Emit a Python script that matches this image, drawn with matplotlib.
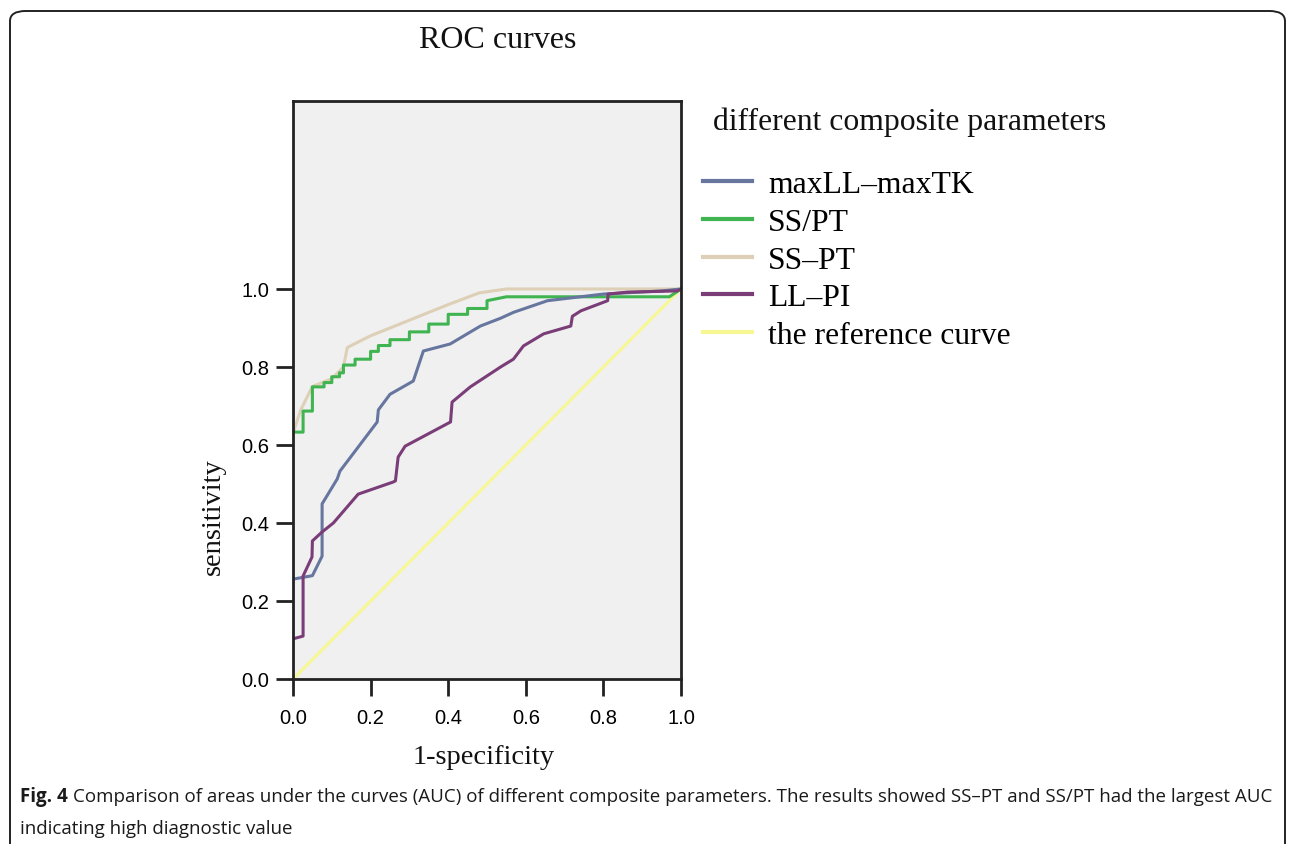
import matplotlib
matplotlib.use("Agg")
import matplotlib.pyplot as plt
from matplotlib.patches import FancyBboxPatch

# ---- data ----
series_names = ["maxLL\u2013maxTK", "SS/PT", "SS\u2013PT", "LL\u2013PI", "the reference curve"]

maxll_x = [0.0, 0.05, 0.075, 0.075, 0.114, 0.121, 0.217, 0.22, 0.25, 0.31, 0.336, 0.405, 0.483, 0.535, 0.568, 0.656, 0.80, 0.95, 1.0]
maxll_y = [0.256, 0.265, 0.315, 0.449, 0.513, 0.533, 0.659, 0.69, 0.73, 0.764, 0.841, 0.859, 0.905, 0.925, 0.94, 0.97, 0.987, 0.995, 1.0]

sspt_ratio_x = [0.0, 0.026, 0.026, 0.05, 0.05, 0.08, 0.08, 0.10, 0.10, 0.12, 0.12, 0.13, 0.13, 0.16, 0.16, 0.20, 0.20, 0.22, 0.22, 0.25, 0.25, 0.30, 0.30, 0.35, 0.35, 0.40, 0.40, 0.45, 0.45, 0.50, 0.50, 0.55, 0.97, 1.0]
sspt_ratio_y = [0.633, 0.633, 0.687, 0.687, 0.749, 0.749, 0.76, 0.76, 0.775, 0.775, 0.785, 0.785, 0.805, 0.805, 0.82, 0.82, 0.84, 0.84, 0.855, 0.855, 0.87, 0.87, 0.89, 0.89, 0.91, 0.91, 0.935, 0.935, 0.95, 0.95, 0.97, 0.98, 0.98, 1.0]

sspt_diff_x = [0.0, 0.02, 0.05, 0.10, 0.13, 0.14, 0.20, 0.30, 0.40, 0.48, 0.55, 1.0]
sspt_diff_y = [0.63, 0.69, 0.75, 0.77, 0.80, 0.85, 0.88, 0.92, 0.96, 0.99, 1.0, 1.0]

llpi_x = [0.0, 0.026, 0.026, 0.049, 0.05, 0.075, 0.104, 0.168, 0.258, 0.264, 0.271, 0.289, 0.406, 0.41, 0.457, 0.535, 0.568, 0.594, 0.646, 0.716, 0.72, 0.742, 0.811, 0.812, 0.863, 0.99, 1.0]
llpi_y = [0.103, 0.11, 0.264, 0.313, 0.354, 0.377, 0.40, 0.474, 0.505, 0.508, 0.569, 0.597, 0.659, 0.71, 0.749, 0.80, 0.82, 0.854, 0.885, 0.905, 0.93, 0.944, 0.97, 0.987, 0.992, 0.995, 1.0]

ref_x = [0.0, 1.0]
ref_y = [0.0, 1.0]

x_ticks = [0.0, 0.2, 0.4, 0.6, 0.8, 1.0]
y_ticks = [0.0, 0.2, 0.4, 0.6, 0.8, 1.0]

colors = ["#66769f", "#3fb451", "#ddd0b6", "#7a3d78", "#f7f793"]

caption_bold = "Fig. 4"
caption_line1 = ("Comparison of areas under the curves (AUC) of different composite parameters. "
                 "The results showed SS\u2013PT and SS/PT had the largest AUC")
caption_line2 = "indicating high diagnostic value"

SERIF = ["Liberation Serif", "DejaVu Serif"]
SANS = ["Liberation Sans", "DejaVu Sans"]

W, H = 1295, 845
fig = plt.figure(figsize=(W / 100, H / 100), dpi=100)

# rounded outer frame
frame = FancyBboxPatch((10 / W, -0.05), 1275 / W, (H - 12) / H + 0.05,
                       boxstyle="round,pad=0,rounding_size=0.012",
                       transform=fig.transFigure, fill=False, edgecolor="#222222",
                       linewidth=1.4, clip_on=False)
fig.patches.append(frame)

ax = fig.add_axes([293 / W, (H - 680) / H, 388 / W, 578 / H])
ax.set_facecolor("#f0f0f0")
ax.set_xlim(0, 1.0)
ax.set_ylim(0, 1.482)

l_ref, = ax.plot(ref_x, ref_y, color=colors[4], lw=2.2, label=series_names[4])
l_diff, = ax.plot(sspt_diff_x, sspt_diff_y, color=colors[2], lw=2.2, label=series_names[2])
l_ratio, = ax.plot(sspt_ratio_x, sspt_ratio_y, color=colors[1], lw=2.2, label=series_names[1])
l_max, = ax.plot(maxll_x, maxll_y, color=colors[0], lw=2.2, label=series_names[0])
l_ll, = ax.plot(llpi_x, llpi_y, color=colors[3], lw=2.2, label=series_names[3])

ax.set_xticks(x_ticks)
ax.set_yticks(y_ticks)
ax.set_xticklabels([f"{v:.1f}" for v in x_ticks], fontfamily=SANS, fontsize=14.5)
ax.set_yticklabels([f"{v:.1f}" for v in y_ticks], fontfamily=SANS, fontsize=14.5)
ax.tick_params(axis="both", direction="out", length=12, width=2, color="#222222")
ax.tick_params(axis="x", pad=9)
ax.tick_params(axis="y", pad=5)
for s in ax.spines.values():
    s.set_color("#222222")
    s.set_linewidth(2)

fig.text(498 / W, 1 - 40 / H, "ROC curves", fontfamily=SERIF, fontsize=23,
         ha="center", va="center", color="#111111")
fig.text(213 / W, 1 - 517 / H, "sensitivity", fontfamily=SERIF, fontsize=20.5,
         rotation=90, ha="center", va="center", color="#111111")
fig.text(484 / W, 1 - 758 / H, "1-specificity", fontfamily=SERIF, fontsize=20.5,
         ha="center", va="center", color="#111111")

fig.text(713 / W, 1 - 122 / H, "different composite parameters", fontfamily=SERIF,
         fontsize=22.8, ha="left", va="center", color="#111111")

leg = fig.legend(handles=[l_max, l_ratio, l_diff, l_ll, l_ref], labels=series_names,
                 loc="upper left", bbox_to_anchor=(703 / W, 1 - 171 / H),
                 frameon=False, prop={"family": SERIF, "size": 22.8},
                 handlelength=1.55, handletextpad=0.5, labelspacing=0.27,
                 borderpad=0, borderaxespad=0)
for h in leg.legend_handles:
    h.set_linewidth(3)

# caption (fit first line to the width of the reference caption)
fig.canvas.draw()
r = fig.canvas.get_renderer()
fs = 14.5
t1 = fig.text(20 / W, 1 - 797 / H, caption_bold, fontfamily=["Open Sans"], fontweight="bold",
              fontsize=fs, ha="left", va="center", color="#1a1a1a")
t2 = fig.text(0, 1 - 797 / H, caption_line1, fontfamily=["Open Sans"], fontsize=fs,
              ha="left", va="center", color="#1a1a1a")
for _ in range(3):
    b1 = t1.get_window_extent(r)
    t2.set_x(b1.x1 / W + 5 / W)
    b2 = t2.get_window_extent(r)
    total = b2.x1 - b1.x0
    fs = fs * (1252 / total)
    t1.set_fontsize(fs)
    t2.set_fontsize(fs)
b1 = t1.get_window_extent(r)
t2.set_x(b1.x1 / W + 5 / W)
fig.text(20 / W, 1 - 829 / H, caption_line2, fontfamily=["Open Sans"], fontsize=fs,
         ha="left", va="center", color="#1a1a1a")

fig.savefig("out.png", dpi=100)
